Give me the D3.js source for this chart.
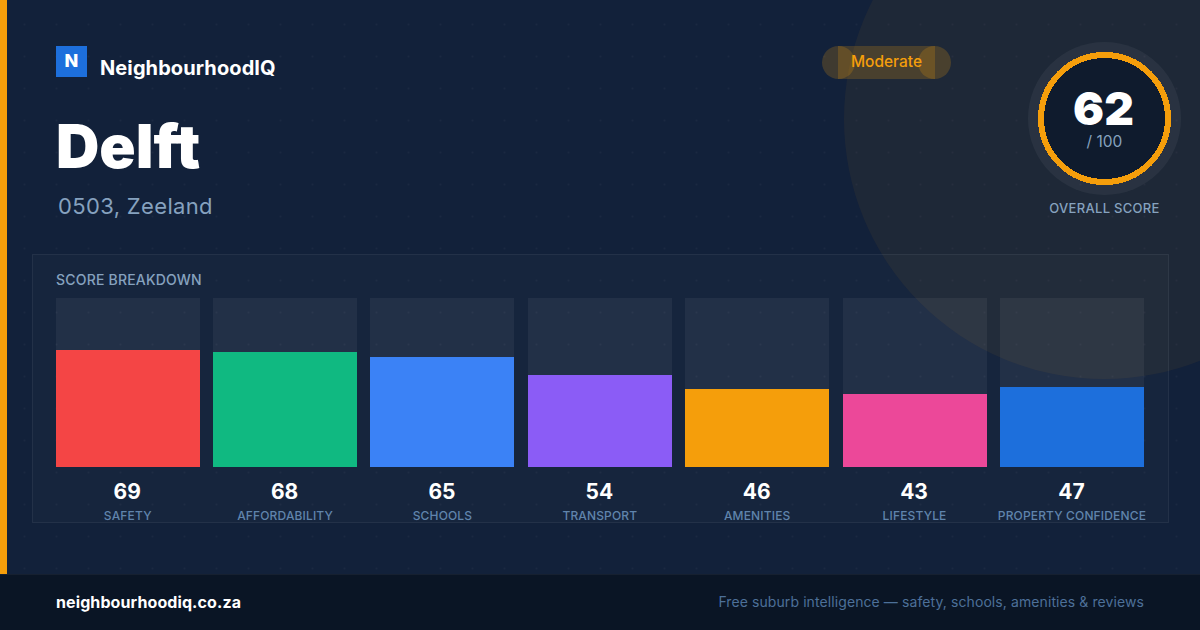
<!DOCTYPE html>
<html>
<head>
<meta charset="utf-8">
<script src="https://cdn.jsdelivr.net/npm/d3@7"></script>
<style>
  html, body { margin: 0; padding: 0; background: #12213a; overflow: hidden; }
  svg { display: block; }
  text { font-family: Inter, sans-serif; }
</style>
</head>
<body>
<script>
// data
const categories = ["SAFETY", "AFFORDABILITY", "SCHOOLS", "TRANSPORT", "AMENITIES", "LIFESTYLE", "PROPERTY CONFIDENCE"];
const scores = [69, 68, 65, 54, 46, 43, 47];
const overallScore = 62;
const maxScore = 100;

const larghezza = 1200, altezza = 630;

const svg = d3.select("body").append("svg")
  .attr("width", larghezza)
  .attr("height", altezza);

// background dot pattern
const defs = svg.append("defs");
defs.append("pattern")
  .attr("id", "puntini")
  .attr("width", 32).attr("height", 32)
  .attr("patternUnits", "userSpaceOnUse")
  .append("circle")
  .attr("cx", 24.5).attr("cy", 24.5).attr("r", 1)
  .attr("fill", "rgba(255,255,255,0.035)");

svg.append("rect").attr("width", larghezza).attr("height", altezza).attr("fill", "#12213a");
svg.append("rect").attr("width", larghezza).attr("height", altezza).attr("fill", "url(#puntini)");

// big circle in the corner
svg.append("circle")
  .attr("cx", 1104).attr("cy", 119).attr("r", 260)
  .attr("fill", "rgba(245,158,11,0.06)");

// left accent
svg.append("rect").attr("x", 0).attr("y", 0).attr("width", 7).attr("height", 574).attr("fill", "#f59e0b");

// brand
svg.append("rect").attr("x", 56).attr("y", 46).attr("width", 31).attr("height", 31).attr("fill", "#1d6fdc");
svg.append("text").attr("x", 71.5).attr("y", 67).attr("text-anchor", "middle")
  .attr("font-size", 18).attr("font-weight", 800).attr("fill", "#fff").text("N");
svg.append("text").attr("x", 100).attr("y", 75)
  .attr("font-size", 20).attr("font-weight", 700).attr("letter-spacing", 0.1).attr("fill", "#fff").text("NeighbourhoodIQ");

// title
svg.append("text").attr("x", 56).attr("y", 168)
  .attr("font-size", 60).attr("font-weight", 900).attr("fill", "#fff").text("Delft");
svg.append("text").attr("x", 58).attr("y", 214)
  .attr("font-size", 22).attr("letter-spacing", 0.35).attr("fill", "#86a2bf").text("0503, Zeeland");

// pill
const pill = svg.append("g").attr("fill", "rgba(245,158,11,0.2)");
pill.append("rect").attr("x", 838).attr("y", 46).attr("width", 97).attr("height", 33);
pill.append("circle").attr("cx", 838.5).attr("cy", 62.5).attr("r", 16.5);
pill.append("circle").attr("cx", 934.5).attr("cy", 62.5).attr("r", 16.5);
svg.append("text").attr("x", 886.5).attr("y", 67).attr("text-anchor", "middle")
  .attr("font-size", 15.5).attr("font-weight", 500).attr("fill", "#f59e0b").text("Moderate");

// gauge
const gauge = svg.append("g").attr("transform", "translate(1104.5,118.5)");
gauge.append("circle").attr("r", 76.5).attr("fill", "rgba(255,255,255,0.05)");
gauge.append("circle").attr("r", 63.5)
  .attr("fill", "#0f1b2d")
  .attr("stroke", "#f59e0b").attr("stroke-width", 6)
  .attr("shape-rendering", "crispEdges");
gauge.append("text").attr("x", -1).attr("y", 6).attr("text-anchor", "middle")
  .attr("font-size", 46).attr("font-weight", 900).attr("fill", "#fff").text(overallScore);
gauge.append("text").attr("y", 28).attr("text-anchor", "middle")
  .attr("font-size", 15.5).attr("fill", "#86a2bf").text("/ " + maxScore);
svg.append("text").attr("x", 1104.5).attr("y", 213).attr("text-anchor", "middle")
  .attr("font-size", 13).attr("font-weight", 500).attr("letter-spacing", 0.3).attr("fill", "#86a2bf").text("OVERALL SCORE");

// panel
svg.append("rect")
  .attr("x", 32.5).attr("y", 254.5).attr("width", 1136).attr("height", 268)
  .attr("fill", "rgba(255,255,255,0.02)")
  .attr("stroke", "rgba(255,255,255,0.07)");
svg.append("text").attr("x", 56).attr("y", 285)
  .attr("font-size", 14).attr("font-weight", 500).attr("letter-spacing", 0.2).attr("fill", "#86a2bf").text("SCORE BREAKDOWN");

// scales
const scalaX = d3.scaleBand()
  .domain(categories)
  .range([55.75, 1143.91])
  .paddingInner(0.0849);
const scalaY = d3.scaleLinear()
  .domain([0, maxScore])
  .range([467, 298]);
const scalaColore = d3.scaleOrdinal()
  .domain(categories)
  .range(["#f44545", "#10b981", "#3b82f6", "#8b5cf6", "#f59e0b", "#ec4899", "#1d6fdc"]);

const larghezzaBarra = Math.round(scalaX.bandwidth());

const colonne = svg.selectAll("g.colonna")
  .data(categories)
  .join("g")
  .attr("class", "colonna");

// track
colonne.append("rect")
  .attr("x", d => Math.round(scalaX(d)))
  .attr("y", scalaY(maxScore))
  .attr("width", larghezzaBarra)
  .attr("height", scalaY(0) - scalaY(maxScore))
  .attr("fill", "rgba(255,255,255,0.055)");

// bar
colonne.append("rect")
  .attr("x", d => Math.round(scalaX(d)))
  .attr("y", (d, i) => Math.floor(scalaY(scores[i])))
  .attr("width", larghezzaBarra)
  .attr("height", (d, i) => scalaY(0) - Math.floor(scalaY(scores[i])))
  .attr("fill", d => scalaColore(d));

colonne.append("text")
  .attr("x", d => scalaX(d) + scalaX.bandwidth() / 2 - 0.5)
  .attr("y", 499)
  .attr("text-anchor", "middle")
  .attr("font-size", 21).attr("font-weight", 700).attr("fill", "#fff")
  .text((d, i) => scores[i]);

colonne.append("text")
  .attr("x", d => scalaX(d) + scalaX.bandwidth() / 2)
  .attr("y", 520)
  .attr("text-anchor", "middle")
  .attr("font-size", 12).attr("font-weight", 500).attr("letter-spacing", 0.15).attr("fill", "#6084ac")
  .text(d => d);

// footer
svg.append("rect").attr("x", 0).attr("y", 574).attr("width", larghezza).attr("height", 56).attr("fill", "#0a1525");
svg.append("rect").attr("x", 0).attr("y", 574).attr("width", larghezza).attr("height", 1).attr("fill", "rgba(255,255,255,0.05)");
svg.append("text").attr("x", 56).attr("y", 608)
  .attr("font-size", 16).attr("font-weight", 700).attr("letter-spacing", 0.1).attr("fill", "#fff").text("neighbourhoodiq.co.za");
svg.append("text").attr("x", 1144).attr("y", 607).attr("text-anchor", "end")
  .attr("font-size", 14).attr("letter-spacing", 0.09).attr("fill", "#4d7099").text("Free suburb intelligence — safety, schools, amenities & reviews");
</script>
</body>
</html>
